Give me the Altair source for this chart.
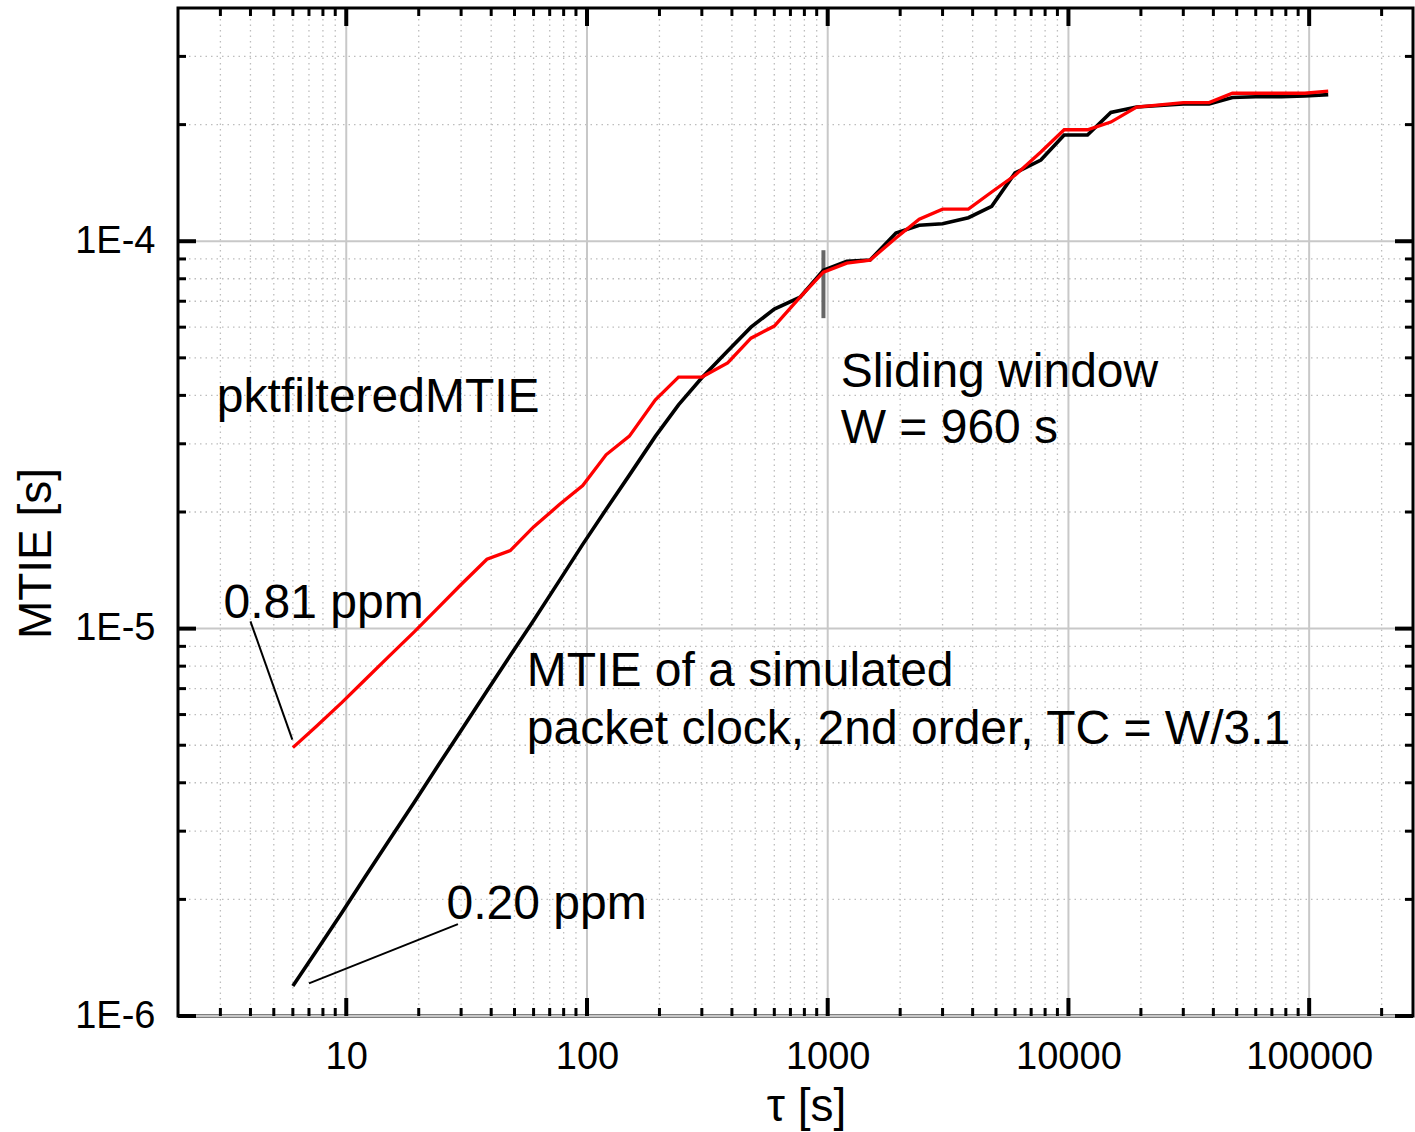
import altair as alt
import pandas as pd

W, H = 1235, 1008
FONT = "Liberation Sans"

# ---- data ----
tau = [6, 7.5, 9.6, 12, 15, 19.2, 24, 30, 38.4, 48, 60, 76.8, 96, 120, 150, 192,
       240, 300, 384, 480, 600, 768, 960, 1200, 1500, 1920, 2400, 3000, 3840,
       4800, 6000, 7680, 9600, 12000, 15000, 19200, 24000, 30000, 38400, 48000,
       60000, 76800, 96000, 120000]
mtie_sim = [1.195e-6, 1.47e-6, 1.85e-6, 2.29e-6, 2.83e-6, 3.57e-6, 4.42e-6, 5.46e-6,
            6.90e-6, 8.52e-6, 1.05e-5, 1.33e-5, 1.65e-5, 2.03e-5, 2.49e-5, 3.13e-5,
            3.78e-5, 4.44e-5, 5.21e-5, 6.00e-5, 6.68e-5, 7.17e-5, 8.42e-5, 8.88e-5,
            8.94e-5, 1.05e-4, 1.10e-4, 1.11e-4, 1.15e-4, 1.23e-4, 1.50e-4, 1.62e-4,
            1.88e-4, 1.88e-4, 2.15e-4, 2.22e-4, 2.24e-4, 2.26e-4, 2.26e-4, 2.35e-4,
            2.36e-4, 2.36e-4, 2.37e-4, 2.39e-4]
mtie_pkt = [4.93e-6, 5.59e-6, 6.45e-6, 7.39e-6, 8.47e-6, 9.82e-6, 1.13e-5, 1.30e-5,
            1.51e-5, 1.59e-5, 1.83e-5, 2.09e-5, 2.34e-5, 2.81e-5, 3.14e-5, 3.89e-5,
            4.46e-5, 4.46e-5, 4.85e-5, 5.62e-5, 6.04e-5, 7.17e-5, 8.32e-5, 8.78e-5,
            8.94e-5, 1.02e-4, 1.14e-4, 1.21e-4, 1.21e-4, 1.34e-4, 1.48e-4, 1.70e-4,
            1.94e-4, 1.94e-4, 2.03e-4, 2.22e-4, 2.25e-4, 2.28e-4, 2.28e-4, 2.41e-4,
            2.41e-4, 2.41e-4, 2.41e-4, 2.44e-4]

note_text = ["pktfilteredMTIE", "Sliding window", "W = 960 s", "0.81 ppm",
             "MTIE of a simulated", "packet clock, 2nd order, TC = W/3.1", "0.20 ppm"]
note_tau = [2.9, 1132, 1132, 3.09, 56.2, 56.2, 26.1]
note_mtie = [3.62e-5, 4.20e-5, 3.01e-5, 1.066e-5, 7.09e-6, 5.05e-6, 1.778e-6]

leader_x = [4.0, 29.1]
leader_x2 = [5.97, 7.0]
leader_y = [1.044e-5, 1.726e-6]
leader_y2 = [5.17e-6, 1.214e-6]

window_x = [960]
window_y = [6.33e-5]
window_y2 = [9.48e-5]

x_major = [10, 100, 1000, 10000, 100000]
y_major = [1e-6, 1e-5, 1e-4]
x_minor = [m * 10 ** e for e in range(0, 6) for m in range(2, 10) if 2 < m * 10 ** e < 270000]
y_minor = [m * 10.0 ** e for e in (-6, -5, -4) for m in range(2, 10) if m * 10.0 ** e < 4e-4]

# ---- tables ----
curves = pd.DataFrame({"tau": tau, "sim": mtie_sim, "pkt": mtie_pkt})
notes = pd.DataFrame({"t": note_tau, "m": note_mtie, "label": note_text})
leaders = pd.DataFrame({"x": leader_x, "x2": leader_x2, "y": leader_y, "y2": leader_y2})
window = pd.DataFrame({"x": window_x, "y": window_y, "y2": window_y2})
xmaj = pd.DataFrame({"v": x_major})
ymaj = pd.DataFrame({"v": y_major})
xmin = pd.DataFrame({"v": x_minor})
ymin = pd.DataFrame({"v": y_minor})

xs = alt.Scale(type="log", domain=[2, 270000], nice=False)
ys = alt.Scale(type="log", domain=[1e-6, 4e-4], nice=False)

xaxis = alt.Axis(values=x_major, format="d", ticks=False, domain=False, grid=False,
                 labelFontSize=38, labelPadding=22, labelFlush=False, labelOverlap=False,
                 labelColor="black", labelFont=FONT,
                 title="τ [s]", titleFontSize=46, titleFontWeight="normal", titleFont=FONT,
                 titleColor="black", titleBaseline="alphabetic", titleX=628, titleY=104)
yaxis = alt.Axis(values=y_major, labelExpr="'1E' + round(log(datum.value) / LN10)",
                 ticks=False, domain=False, grid=False,
                 labelFontSize=38, labelPadding=23, labelFlush=False, labelOverlap=False,
                 labelColor="black", labelFont=FONT,
                 title="MTIE [s]", titleFontSize=46, titleFontWeight="normal", titleFont=FONT,
                 titleColor="black", titleAngle=270, titleBaseline="alphabetic",
                 titleAlign="center", titleX=-128, titleY=545)


def X(field):
    return alt.X(field, scale=xs, axis=xaxis)


def Y(field):
    return alt.Y(field, scale=ys, axis=yaxis)


def vrules(df, y0, y1, **mk):
    return alt.Chart(df).mark_rule(**mk).encode(
        x=X("v:Q"), y=alt.value(y0), y2=alt.value(y1))


def hrules(df, x0, x1, **mk):
    return alt.Chart(df).mark_rule(**mk).encode(
        y=Y("v:Q"), x=alt.value(x0), x2=alt.value(x1))


minor_grid = dict(color="#bdbdbd", strokeWidth=1.3, strokeDash=[1.5, 4])
major_grid = dict(color="#c8c8c8", strokeWidth=2)
minor_tick = dict(color="black", strokeWidth=3)
major_tick = dict(color="black", strokeWidth=4)

layers = [
    vrules(xmin, 0, H, **minor_grid),
    hrules(ymin, 0, W, **minor_grid),
    vrules(xmaj, 0, H, **major_grid),
    hrules(ymaj, 0, W, **major_grid),
    alt.Chart(window).mark_rule(color="#666666", strokeWidth=4).encode(
        x=X("x:Q"), y=Y("y:Q"), y2="y2:Q"),
    alt.Chart(curves).mark_line(color="black", strokeWidth=3.6).encode(
        x=X("tau:Q"), y=Y("sim:Q")),
    alt.Chart(curves).mark_line(color="#ff0000", strokeWidth=3.3).encode(
        x=X("tau:Q"), y=Y("pkt:Q")),
    alt.Chart(leaders).mark_rule(color="black", strokeWidth=2).encode(
        x=X("x:Q"), x2="x2:Q", y=Y("y:Q"), y2="y2:Q"),
    alt.Chart(notes).mark_text(font=FONT, fontSize=48, align="left",
                               baseline="alphabetic", color="black").encode(
        x=X("t:Q"), y=Y("m:Q"), text="label:N"),
    # inward ticks on all four sides
    vrules(xmin, H, H - 8, **minor_tick),
    vrules(xmaj, H, H - 18, **major_tick),
    vrules(xmin, 0, 8, **minor_tick),
    vrules(xmaj, 0, 18, **major_tick),
    hrules(ymin, 0, 8, **minor_tick),
    hrules(ymaj, 0, 18, **major_tick),
    hrules(ymin, W, W - 8, **minor_tick),
    hrules(ymaj, W, W - 18, **major_tick),
]

chart = alt.layer(*layers).properties(
    width=W, height=H,
    padding={"left": 178, "top": 8, "right": 2, "bottom": 116},
    autosize=alt.AutoSizeParams(type="none"),
    background="white",
).configure_view(stroke="black", strokeWidth=3)

chart.save("out.html", embed_options={"renderer": "svg", "actions": False})
